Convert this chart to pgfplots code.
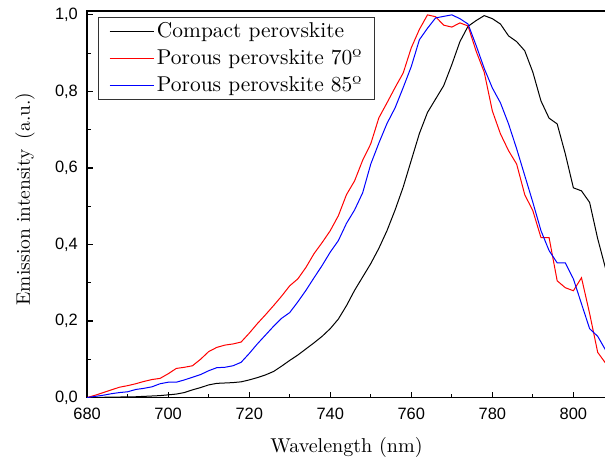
\documentclass[border=0pt]{standalone}
\usepackage{fontspec}
\setmainfont{lmroman10-regular.otf}[Ligatures=TeX]
\newfontfamily\arialfont{Liberation Sans}
\usepackage{graphicx}
\usepackage{pgfplots}
\pgfplotsset{compat=1.18}
\usetikzlibrary{calc}
\definecolor{cblack}{RGB}{0,0,0}
\definecolor{cred}{RGB}{255,0,0}
\definecolor{cblue}{RGB}{0,0,255}
\newcommand{\labfont}{\fontsize{14.6pt}{17pt}\selectfont}
\newcommand{\tickfont}{\arialfont\fontsize{12.3pt}{14pt}\selectfont}
\newcommand{\legtxt}[1]{\scalebox{1.1}{\labfont #1}}
\newcommand{\xlabtxt}[1]{\scalebox{1.03}{\labfont #1}}
\begin{document}
\begin{tikzpicture}
\begin{axis}[
  scale only axis,
  width=388.5pt, height=289.5pt,
  xmin=680, xmax=808, ymin=0, ymax=1.01,
  xtick={680,700,...,800},
  ytick={0,0.2,...,1.0},
  minor tick num=1,
  tick pos=left,
  tick align=inside,
  major tick length=4.5pt,
  minor tick length=2.6pt,
  axis line style={line width=1pt},
  every tick/.style={line width=0.9pt, black},
  /pgf/number format/assume math mode=true,
  ticklabel style={font=\tickfont},
  xticklabel style={yshift=-4.2pt},
  yticklabel style={xshift=-3.4pt},
  yticklabel={\pgfmathprintnumber[fixed,fixed zerofill,precision=1,use comma]{\tick}},
  xticklabel={\pgfmathprintnumber[fixed,precision=0]{\tick}},
  label style={font=\labfont},
  xlabel={\xlabtxt{Wavelength (nm)}},
  ylabel={Emission intensity\hspace{0.52em}(a.u.)},
  xlabel style={at={(axis description cs:0.5,0)}, anchor=center, yshift=-37.5pt},
  ylabel style={at={(axis description cs:0,0.5)}, anchor=center, yshift=46.5pt, xshift=4pt},
  legend style={at={(axis description cs:0,1)}, anchor=north west,
    xshift=8.25pt, yshift=-4.5pt, draw=black!80, line width=0.6pt,
    font=\labfont, inner xsep=8pt, inner ysep=2pt,
    row sep=3.3pt, cells={anchor=west}},
  legend image code/.code={\draw[#1, line width=0.75pt] (0pt,0pt) -- (33pt,0pt);},
  legend cell align=left,
]
\addplot[color=cblack, line width=0.75pt] coordinates {
(680,0) (686,0.001) (692,0.002) (698,0.005) (702,0.009) (704,0.013) (706,0.02) (708,0.026)
(710,0.033) (712,0.037) (714,0.038) (716,0.039) (718,0.041) (720,0.046) (722,0.052) (724,0.059)
(726,0.068) (728,0.082) (730,0.097) (732,0.111) (734,0.127) (736,0.143) (738,0.16) (740,0.18)
(742,0.205) (744,0.24) (746,0.28) (748,0.315) (750,0.35) (752,0.39) (754,0.436) (756,0.49)
(758,0.55) (760,0.62) (762,0.69) (764,0.745) (766,0.78) (768,0.815) (770,0.87) (772,0.93)
(774,0.97) (776,0.985) (778,0.998) (780,0.99) (782,0.976) (784,0.945) (786,0.93) (788,0.906)
(790,0.85) (792,0.775) (794,0.73) (796,0.715) (798,0.637) (800,0.548) (802,0.54) (804,0.51)
(806,0.415) (808,0.335)};
\addlegendentry{\legtxt{Compact perovskite}}
\addplot[color=cred, line width=0.75pt] coordinates {
(680,0) (682,0.006) (684,0.013) (686,0.02) (688,0.027) (690,0.031) (692,0.036) (694,0.042)
(696,0.047) (698,0.05) (700,0.062) (702,0.076) (704,0.079) (706,0.083) (708,0.1) (710,0.12)
(712,0.131) (714,0.137) (716,0.14) (718,0.145) (720,0.168) (722,0.193) (724,0.216) (726,0.24)
(728,0.265) (730,0.292) (732,0.31) (734,0.34) (736,0.376) (738,0.405) (740,0.436) (742,0.475)
(744,0.53) (746,0.566) (748,0.62) (750,0.663) (752,0.731) (754,0.77) (756,0.81) (758,0.848)
(760,0.914) (762,0.962) (764,1.0) (766,0.995) (768,0.973) (770,0.968) (772,0.979) (774,0.971)
(776,0.905) (778,0.85) (780,0.749) (782,0.689) (784,0.645) (786,0.61) (788,0.53) (790,0.488)
(792,0.418) (794,0.418) (796,0.305) (798,0.287) (800,0.279) (802,0.313) (804,0.22) (806,0.118)
(808,0.089)};
\addlegendentry{\legtxt{Porous perovskite 70º}}
\addplot[color=cblue, line width=0.75pt] coordinates {
(680,0) (682,0.003) (684,0.006) (686,0.01) (688,0.013) (690,0.015) (692,0.021) (694,0.024)
(696,0.028) (698,0.036) (700,0.04) (702,0.04) (704,0.046) (706,0.053) (708,0.06) (710,0.07)
(712,0.078) (714,0.079) (716,0.083) (718,0.092) (720,0.115) (722,0.14) (724,0.163) (726,0.186)
(728,0.207) (730,0.222) (732,0.25) (734,0.28) (736,0.313) (738,0.345) (740,0.38) (742,0.41)
(744,0.455) (746,0.49) (748,0.535) (750,0.61) (752,0.665) (754,0.716) (756,0.757) (758,0.81)
(760,0.865) (762,0.935) (764,0.965) (766,0.992) (768,0.996) (770,1.0) (772,0.99) (774,0.976)
(776,0.92) (778,0.86) (780,0.809) (782,0.77) (784,0.715) (786,0.65) (788,0.58) (790,0.51)
(792,0.436) (794,0.384) (796,0.352) (798,0.352) (800,0.31) (802,0.245) (804,0.18) (806,0.16)
(808,0.123)};
\addlegendentry{\legtxt{Porous perovskite 85º}}
\end{axis}
\pgfresetboundingbox
\path[use as bounding box] ($(current axis.south west)+(-65.25pt,-48pt)$) rectangle ($(current axis.north east)+(-0.6pt,8.25pt)$);
\end{tikzpicture}
\end{document}
